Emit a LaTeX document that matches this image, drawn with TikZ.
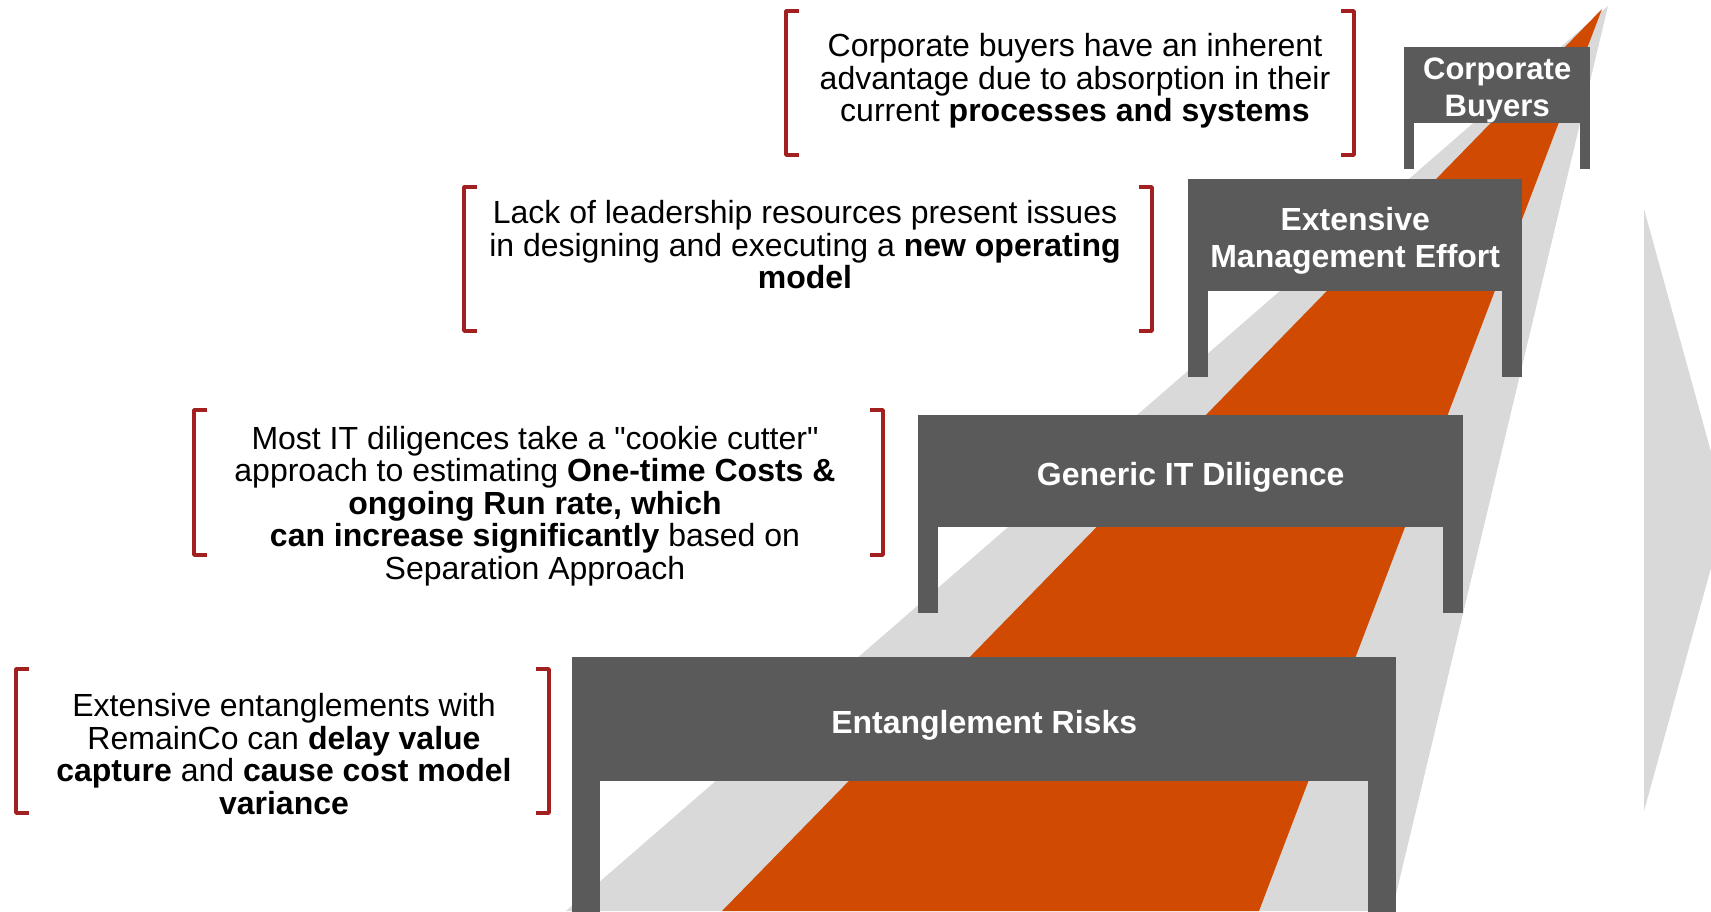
\documentclass[tikz,border=0pt]{standalone}
\usepackage{fontspec}
\setmainfont{Liberation Sans}[Ligatures=TeXOff]
\usepackage{xcolor}
\usetikzlibrary{calc}
\definecolor{roadorange}{HTML}{D04A02}
\definecolor{roadgrey}{HTML}{D9D9D9}
\definecolor{gategrey}{HTML}{5A5A5A}
\definecolor{bracketred}{HTML}{A32020}
\tikzset{
	gate/.style={fill=gategrey, inner sep=0pt, anchor=north west},
	gatelabel/.style={
			text=white, align=center, inner sep=0pt,
			font=\fontsize{32}{37}\selectfont\bfseries
		},
	note/.style={
			text=black, align=center, inner sep=0pt,
			font=\fontsize{32}{32.5}\selectfont
		},
	bracket/.style={draw=bracketred, line width=3.5pt, line join=round}
}

\begin{document}
\begin{tikzpicture}[x=1pt,y=-1pt]
		\useasboundingbox (0,0) rectangle (1711,911);
		\clip (0,0) rectangle (1711,911);

		%--- Road ---
		\coordinate (G) at (1608,6);
		\coordinate (O) at (1602,9);
		\fill[roadgrey] (G) -- (1392,911) -- (566,911) -- cycle;
		\fill[roadorange] (O) -- (1259,911) -- (722,911) -- cycle;
		% grey arrow head on the right
		\fill[roadgrey] (1644,209) -- (1727,510) -- (1644,811) -- cycle;

		%--- Gates ---
		\node[gate, minimum width=824pt, minimum height=124pt] (risks) at (572,657) {};
		\fill[gategrey] (risks.south west) rectangle ++(28,140);
		\fill[gategrey] (risks.south east) rectangle ++(-28,140);
		\node[gatelabel] (riskstext) at ($(risks.center)+(0,6)$) {Entanglement Risks};

		\node[gate, minimum width=545pt, minimum height=112pt] (generic) at (918,415) {};
		\fill[gategrey] (generic.south west) rectangle ++(20,86);
		\fill[gategrey] (generic.south east) rectangle ++(-20,86);
		\node[gatelabel] (generictext) at ($(generic.center)+(0,6)$) {Generic IT Diligence};

		\node[gate, minimum width=334pt, minimum height=112pt] (effort) at (1188,179) {};
		\fill[gategrey] (effort.south west) rectangle ++(20,86);
		\fill[gategrey] (effort.south east) rectangle ++(-20,86);
		\node[gatelabel] (efforttext) at ($(effort.center)+(0,6)$) {Extensive\\Management Effort};

		\node[gate, minimum width=186pt, minimum height=76pt] (buyers) at (1404,47) {};
		\fill[gategrey] (buyers.south west) rectangle ++(10,46);
		\fill[gategrey] (buyers.south east) rectangle ++(-10,46);
		\node[gatelabel, font=\fontsize{31}{37}\selectfont\bfseries] (buyerstext) at ($(buyers.center)+(0,5)$) {Corporate\\Buyers};

		%--- Notes ---
		\node[note] (buyersnote) at (1075,81) {Corporate buyers have an inherent\\
			advantage due to absorption in their\\
			current \textbf{processes and systems}};
		\draw[bracket] (799,11) -- (786,11) -- (786,155) -- (799,155);
		\draw[bracket] (1341,11) -- (1354,11) -- (1354,155) -- (1341,155);

		\node[note] (effortnote) at (805,245) {Lack of leadership resources present issues\\
			in designing and executing a \textbf{new operating}\\
			\textbf{model}};
		\draw[bracket] (477,187) -- (464,187) -- (464,331) -- (477,331);
		\draw[bracket] (1139,187) -- (1152,187) -- (1152,331) -- (1139,331);

		\node[note] (genericnote) at (535,506) {Most IT diligences take a "cookie cutter"\\
			approach to estimating \textbf{One-time Costs \&}\\
			\textbf{ongoing Run rate, which}\\
			\textbf{can increase significantly} based on\\
			Separation Approach};
		\draw[bracket] (207,410) -- (194,410) -- (194,555) -- (207,555);
		\draw[bracket] (870,410) -- (883,410) -- (883,555) -- (870,555);

		\node[note] (risksnote) at (284,754) {Extensive entanglements with\\
			RemainCo can \textbf{delay value}\\
			\textbf{capture} and \textbf{cause cost model}\\
			\textbf{variance}};
		\draw[bracket] (29,669) -- (16,669) -- (16,813) -- (29,813);
		\draw[bracket] (536,669) -- (549,669) -- (549,813) -- (536,813);
	\end{tikzpicture}
\end{document}
